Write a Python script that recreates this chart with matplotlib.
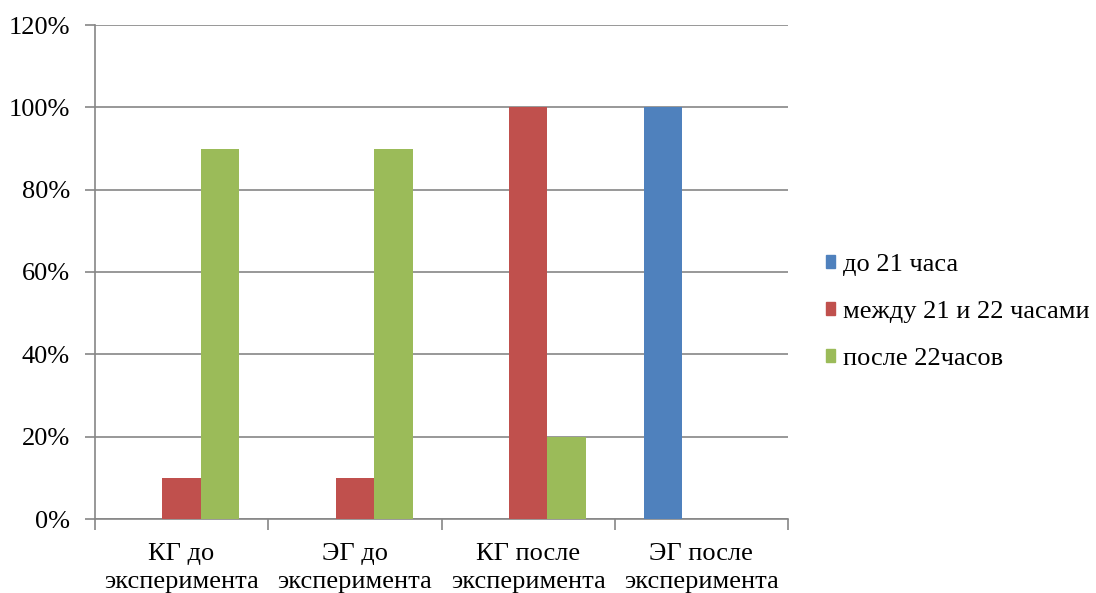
import numpy as np
import matplotlib.pyplot as plt
from matplotlib.patches import Patch

categories = ["КГ до\nэксперимента", "ЭГ до\nэксперимента",
              "КГ после\nэксперимента", "ЭГ после\nэксперимента"]
series_names = ["до 21 часа", "между 21 и 22 часами", "после 22часов"]
before_21 = [0, 0, 0, 100]
between_21_22 = [10, 10, 100, 0]
after_22 = [90, 90, 20, 0]
colors = ["#4f81bd", "#c0504d", "#9bbb59"]

plt.rcParams['font.family'] = ['Liberation Serif', 'DejaVu Serif']

fig = plt.figure(figsize=(10.96, 5.93), dpi=100)
ax = fig.add_axes([95 / 1096, 74 / 593, 693 / 1096, 494 / 593])

x = np.arange(len(categories))
w = 0.222
for i, vals in enumerate([before_21, between_21_22, after_22]):
    ax.bar(x + (i - 1) * w, vals, width=w, color=colors[i], zorder=3)

ax.set_xlim(-0.5, 3.5)
ax.set_ylim(0, 120)
ax.set_yticks(range(0, 121, 20))
ax.set_yticklabels([f"{v}%" for v in range(0, 121, 20)], fontsize=19)
ax.yaxis.grid(True, color="#868686", linewidth=1.2, zorder=0)

ax.set_xticks(np.arange(-0.5, 4, 1))
ax.set_xticklabels([])
ax.set_xticks(x, minor=True)
ax.set_xticklabels(categories, minor=True, fontsize=19, linespacing=1.35)
ax.tick_params(axis='x', which='minor', length=0, pad=17)
ax.tick_params(axis='x', which='major', length=8, color="#868686", width=1.2)
ax.tick_params(axis='y', length=7, color="#868686", width=1.2, pad=11)

for side in ['top', 'right']:
    ax.spines[side].set_visible(False)
for side in ['left', 'bottom']:
    ax.spines[side].set_color("#868686")
    ax.spines[side].set_linewidth(1.2)

handles = [Patch(color=c) for c in colors]
fig.legend(handles, series_names, loc='center left',
           bbox_to_anchor=(826 / 1096, (593 - 312) / 593),
           frameon=False, fontsize=19, handlelength=0.35, handleheight=0.35,
           handletextpad=0.3, labelspacing=0.95, borderpad=0, borderaxespad=0)

fig.savefig("out.png", dpi=100)
